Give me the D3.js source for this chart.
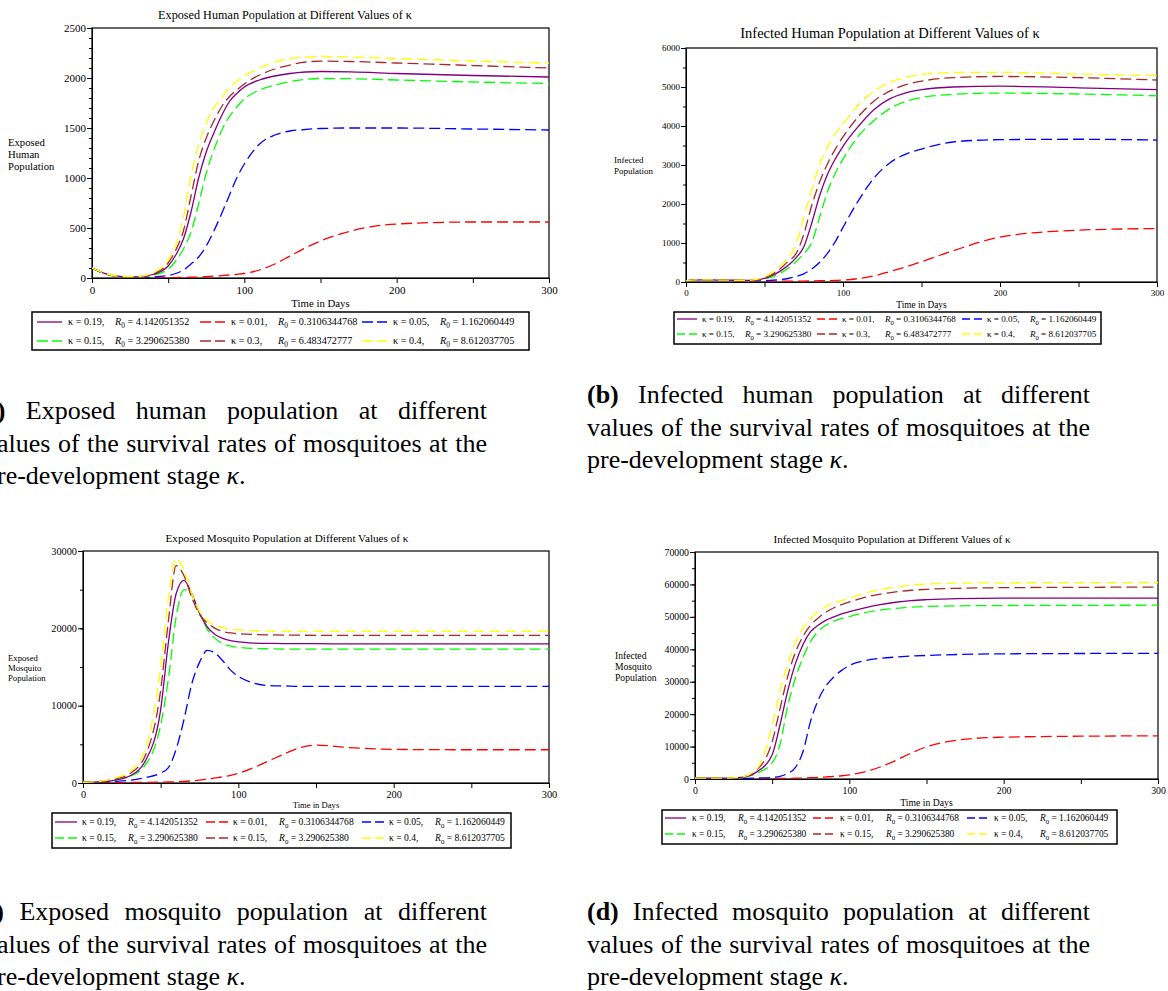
<!DOCTYPE html>
<html>
<head>
<meta charset="utf-8">
<script src="https://cdn.jsdelivr.net/npm/d3@7"></script>
<style>
body { margin: 0; background: #fff; }
text { font-family: "Liberation Serif", "Times New Roman", serif; fill: #000; }
</style>
</head>
<body>
<script>

// sample times (days) shared by every series
const days = [0,10,20,30,40,50,55,60,65,70,75,80,85,90,95,100,110,120,130,140,150,170,200,250,300]

// (a) exposed human population
const ehK019 = [100,38,13,12,35,120,230,390,660,1000,1260,1450,1620,1760,1845,1910,1980,2020,2045,2060,2065,2062,2045,2025,2010]
const ehK001 = [100,37,12,6,3,3,4,6,8,10,14,18,24,30,37,45,80,140,220,300,370,470,540,560,560]
const ehK005 = [100,37,12,8,10,25,45,80,140,210,320,470,640,820,1000,1140,1340,1430,1470,1485,1495,1500,1500,1490,1480]
const ehK015 = [100,37,12,10,28,90,170,290,460,740,1050,1280,1470,1610,1710,1790,1880,1930,1965,1985,1995,1993,1980,1960,1945]
const ehK03  = [100,40,14,13,40,150,280,470,820,1170,1400,1570,1710,1810,1880,1940,2030,2090,2130,2160,2168,2165,2150,2125,2100]
const ehK04  = [100,40,15,15,50,180,330,600,1020,1330,1550,1700,1800,1900,1965,2020,2100,2160,2195,2210,2215,2210,2195,2170,2150]

// (b) infected human population
const ihK019 = [30,55,50,45,42,90,170,280,420,620,900,1500,2200,2750,3150,3480,4000,4430,4700,4850,4930,5000,5020,4980,4935]
const ihK001 = [30,50,45,35,28,22,21,21,21,22,25,28,32,36,42,50,90,160,270,390,520,800,1150,1330,1370]
const ihK005 = [30,55,50,45,38,35,45,60,90,140,210,330,500,730,1030,1400,2100,2680,3060,3280,3410,3590,3650,3660,3640]
const ihK015 = [30,55,50,45,40,75,130,220,350,520,730,1000,1650,2300,2780,3150,3750,4150,4450,4630,4730,4810,4845,4820,4775]
const ihK03  = [30,55,50,45,43,110,200,340,530,720,1220,1950,2550,3020,3400,3720,4250,4650,4900,5060,5150,5240,5270,5240,5180]
const ihK04  = [30,55,50,45,45,130,240,400,620,950,1650,2350,3000,3450,3800,4050,4550,4900,5120,5250,5320,5370,5375,5330,5290]

// (c) exposed mosquito population
const emK019 = [100,150,350,900,2800,9500,18200,24500,26200,24500,22000,20200,19200,18700,18400,18250,18100,18050,18030,18020,18010,18000,18000,18000,18000]
const emK001 = [100,60,50,60,80,110,130,160,200,280,380,500,650,800,1000,1250,2000,2900,3800,4600,4900,4600,4350,4300,4300]
const emK005 = [100,120,200,350,700,1300,2000,4400,8200,12800,15600,17150,16800,15800,14600,13800,12900,12600,12550,12500,12500,12500,12500,12500,12500]
const emK015 = [100,160,400,850,2300,7500,13500,21500,25000,24300,22000,19900,18700,18000,17700,17550,17400,17350,17320,17310,17300,17300,17300,17300,17300]
const emK03  = [100,180,500,1200,3500,12000,21000,28100,26800,24000,21800,20700,20000,19600,19400,19300,19200,19150,19120,19110,19100,19100,19100,19100,19100]
const emK04  = [100,200,600,1500,4300,15000,24000,29000,27500,24500,22200,21000,20400,20100,19900,19800,19700,19650,19650,19650,19650,19650,19650,19650,19650]

// (d) infected mosquito population
const imK019 = [300,300,300,500,2200,7500,16500,27000,35500,41500,45500,47500,49000,50000,50900,51600,52800,53800,54500,55000,55300,55650,55800,55800,55800]
const imK001 = [300,150,100,100,120,150,170,200,250,300,400,500,650,800,1000,1300,2200,3700,5700,8000,9900,12000,12900,13200,13300]
const imK005 = [300,250,200,200,300,500,800,1700,3500,8500,18000,24500,28800,31500,33500,35000,36500,37200,37600,37900,38100,38400,38600,38700,38750]
const imK015 = [300,300,300,450,1800,5000,10500,22300,31000,37500,42500,45600,47500,48700,49500,50100,51300,52100,52600,53000,53200,53400,53500,53550,53600]
const imK03  = [300,300,300,550,2800,11500,21500,31500,39000,44000,47500,49700,51500,52800,53800,54600,56000,57000,57700,58200,58500,58800,59000,59100,59200]
const imK04  = [300,300,300,600,3000,16500,27000,35500,42000,46500,49500,51700,53200,54300,55000,55800,57300,58400,59200,59800,60100,60400,60500,60550,60600]

// legend entries: kappa and R0
const kappaAB = ["0.19","0.01","0.05","0.15","0.3","0.4"]
const r0AB    = ["4.142051352","0.3106344768","1.162060449","3.290625380","6.483472777","8.612037705"]
const kappaCD = ["0.19","0.01","0.05","0.15","0.15","0.4"]
const r0CD    = ["4.142051352","0.3106344768","1.162060449","3.290625380","3.290625380","8.612037705"]

const xTicks = [0,100,200,300]
const xMinorTicks = [50,150,250]

const seriesColors = ["#800080","#ff0000","#0000ff","#00ff00","#a52a2a","#ffff00"]
const seriesDash = [null,"11,5","11,5","11,5","11,5","11,5"]

const svg = d3.select('body').append('svg')
    .attr('width', 1168)
    .attr('height', 991)

function drawPanel(p){

    const g = svg.append('g').attr('class', 'panel')

    const x = d3.scaleLinear().domain([0, 300]).range([p.x0, p.x1])
    const y = d3.scaleLinear().domain([0, p.yMax]).range([p.yBot, p.yTop])

    const clipId = 'clip' + p.id
    g.append('clipPath').attr('id', clipId)
        .append('rect')
        .attr('x', p.x0).attr('y', p.yTop)
        .attr('width', p.x1 - p.x0).attr('height', p.yBot - p.yTop)

    // minor ticks
    g.append('g')
        .attr('transform', getTranslateString(p.x0, 0))
        .call(d3.axisLeft(y).tickValues(d3.range(0, p.yMax + 1, p.yMinor)).tickSize(3).tickFormat(''))
        .call(a => a.select('.domain').remove())
    g.append('g')
        .attr('transform', getTranslateString(0, p.yBot))
        .call(d3.axisBottom(x).tickValues(xMinorTicks).tickSize(5).tickFormat(''))
        .call(a => a.select('.domain').remove())

    g.append('g')
        .attr('transform', getTranslateString(p.x0, 0))
        .call(d3.axisLeft(y).tickValues(d3.range(0, p.yMax + 1, p.yMajor)).tickSize(5).tickSizeOuter(0).tickPadding(1).tickFormat(d3.format('d')))
    g.append('g')
        .attr('transform', getTranslateString(0, p.yBot))
        .call(d3.axisBottom(x).tickValues(xTicks).tickSize(5).tickSizeOuter(0).tickPadding(3).tickFormat(d3.format('d')))

    g.selectAll('.tick text')
        .style('font-family', '"Liberation Serif", serif')
        .style('font-size', p.tickSize + 'px')
    g.selectAll('.tick line').attr('stroke', '#000')

    // frame
    g.append('rect')
        .attr('x', p.x0).attr('y', p.yTop)
        .attr('width', p.x1 - p.x0).attr('height', p.yBot - p.yTop)
        .attr('fill', 'none').attr('stroke', '#000').attr('stroke-width', 1.2)

    const line = d3.line()
        .x((d, i) => x(days[i]))
        .y(d => y(d))
        .curve(d3.curveMonotoneX)

    const order = [1, 2, 3, 0, 4, 5]
    const lines = g.append('g').attr('clip-path', 'url(#' + clipId + ')')
    order.forEach(k => {
        lines.append('path')
            .attr('d', line(p.series[k]))
            .attr('fill', 'none')
            .attr('stroke', seriesColors[k])
            .attr('stroke-width', 1.3)
            .attr('stroke-dasharray', seriesDash[k])
    })

    // title
    g.append('text')
        .attr('x', p.titleX).attr('y', p.titleY)
        .attr('text-anchor', 'middle')
        .style('font-size', p.titleSize + 'px')
        .text(p.title)

    // y label
    p.ylab.forEach((t, i) => {
        g.append('text')
            .attr('x', p.ylabX).attr('y', p.ylabY[i])
            .style('font-size', p.ylabSize + 'px')
            .text(t)
    })

    // x label
    g.append('text')
        .attr('x', (p.x0 + p.x1) / 2).attr('y', p.xlabY)
        .attr('text-anchor', 'middle')
        .style('font-size', p.xlabSize + 'px')
        .text('Time in Days')

    drawLegend(g, p.legend, p.kappas, p.r0s)
}

function drawLegend(g, L, kappas, r0s){

    g.append('rect')
        .attr('x', L.x).attr('y', L.y)
        .attr('width', L.w).attr('height', L.h)
        .attr('fill', 'none').attr('stroke', '#000').attr('stroke-width', 1.5)

    kappas.forEach((k, i) => {
        const cx = L.cols[i % 3]
        const cy = L.rows[Math.floor(i / 3)]

        g.append('line')
            .attr('x1', cx).attr('x2', cx + L.len)
            .attr('y1', cy).attr('y2', cy)
            .attr('stroke', seriesColors[i])
            .attr('stroke-width', 1.3)
            .attr('stroke-dasharray', seriesDash[i] ? L.dash : null)

        g.append('text')
            .attr('x', cx + L.kOff).attr('y', cy + L.size * 0.33)
            .style('font-size', L.size + 'px')
            .text('κ = ' + k + ',')

        const r = g.append('text')
            .attr('x', cx + L.rOff).attr('y', cy + L.size * 0.33)
            .style('font-size', L.size + 'px')
        r.append('tspan').style('font-style', 'italic').text('R')
        r.append('tspan').attr('dy', L.size * 0.3).style('font-size', (L.size * 0.72) + 'px').text('0')
        r.append('tspan').attr('dy', -L.size * 0.3).text(' = ' + r0s[i])
    })
}

const panels = [
    {id: 'a', x0: 92, x1: 549, yTop: 28, yBot: 278, yMax: 2500, yMajor: 500, yMinor: 100,
     series: [ehK019, ehK001, ehK005, ehK015, ehK03, ehK04],
     title: 'Exposed Human Population at Different Values of κ', titleX: 285, titleY: 19, titleSize: 12.2,
     tickSize: 11, ylab: ['Exposed', 'Human', 'Population'], ylabX: 8, ylabY: [146, 158, 170], ylabSize: 10.7,
     xlabY: 307, xlabSize: 10.8, kappas: kappaAB, r0s: r0AB,
     legend: {x: 32, y: 312, w: 497, h: 38, rows: [322, 341], cols: [37, 200, 362], len: 25, dash: '11,4', kOff: 31, rOff: 78, size: 10.2}},
    {id: 'b', x0: 686, x1: 1157, yTop: 48, yBot: 282, yMax: 6000, yMajor: 1000, yMinor: 500,
     series: [ihK019, ihK001, ihK005, ihK015, ihK03, ihK04],
     title: 'Infected Human Population at Different Values of κ', titleX: 890, titleY: 38, titleSize: 14.5,
     tickSize: 9, ylab: ['Infected', 'Population'], ylabX: 614, ylabY: [163, 174], ylabSize: 9,
     xlabY: 308, xlabSize: 9.3, kappas: kappaAB, r0s: r0AB,
     legend: {x: 674, y: 312, w: 427, h: 32, rows: [319, 334], cols: [677, 817, 962], len: 20, dash: '8,4', kOff: 25, rOff: 68, size: 9.1}},
    {id: 'c', x0: 83, x1: 549, yTop: 551, yBot: 783, yMax: 30000, yMajor: 10000, yMinor: 5000,
     series: [emK019, emK001, emK005, emK015, emK03, emK04],
     title: 'Exposed Mosquito Population at Different Values of κ', titleX: 287, titleY: 542, titleSize: 11.2,
     tickSize: 10.3, ylab: ['Exposed', 'Mosquito', 'Population'], ylabX: 8, ylabY: [661, 671, 681], ylabSize: 8.7,
     xlabY: 808, xlabSize: 8.6, kappas: kappaCD, r0s: r0CD,
     legend: {x: 52, y: 813, w: 459, h: 35, rows: [822, 838], cols: [55, 206, 362], len: 22, dash: '9,4', kOff: 27, rOff: 73, size: 9.6}},
    {id: 'd', x0: 695, x1: 1158, yTop: 552, yBot: 779, yMax: 70000, yMajor: 10000, yMinor: 5000,
     series: [imK019, imK001, imK005, imK015, imK03, imK04],
     title: 'Infected Mosquito Population at Different Values of κ', titleX: 892, titleY: 543, titleSize: 11,
     tickSize: 9.8, ylab: ['Infected', 'Mosquito', 'Population'], ylabX: 615, ylabY: [659, 670, 681], ylabSize: 9.6,
     xlabY: 806, xlabSize: 9.7, kappas: kappaCD, r0s: r0CD,
     legend: {x: 662, y: 810, w: 455, h: 34, rows: [818, 834], cols: [665, 813, 967], len: 21, dash: '8,4', kOff: 27, rOff: 73, size: 9.4}}
]

panels.forEach(drawPanel)

// sub-figure captions (left column is cropped at the page edge, as in the source)
function drawCaption(x, y0, tag, subject, firstShift){
    const lines = [
        {parts: [[tag, 'bold'], [' ' + subject + ' population at different', null]], justify: true, shift: firstShift},
        {parts: [['values of the survival rates of mosquitoes at the', null]], justify: true, shift: 0},
        {parts: [['pre-development stage ', null], ['κ', 'italic'], ['.', null]], justify: false, shift: 0}
    ]
    const right = x + 503
    lines.forEach((ln, i) => {
        const x0 = x - ln.shift
        const t = svg.append('text')
            .attr('x', x0).attr('y', y0 + i * 32.5)
            .style('font-size', '26px')
        ln.parts.forEach(pt => {
            const s = t.append('tspan').text(pt[0])
            if (pt[1] === 'bold') s.style('font-weight', 'bold')
            if (pt[1] === 'italic') s.style('font-style', 'italic')
        })
        if (ln.justify){
            const full = ln.parts.map(pt => pt[0]).join('')
            const spaces = full.split(' ').length - 1
            const w = t.node().getComputedTextLength()
            t.attr('word-spacing', (right - x0 - w) / spaces)
        }
    })
}

drawCaption(-16, 419, '(a)', 'Exposed human', 9)
drawCaption(587, 403, '(b)', 'Infected human', 0)
drawCaption(-16, 920, '(c)', 'Exposed mosquito', 9)
drawCaption(587, 920, '(d)', 'Infected mosquito', 0)

function getTranslateString(x, y){
    return 'translate(' + x + ',' + y + ')'
}

</script>
</body>
</html>
